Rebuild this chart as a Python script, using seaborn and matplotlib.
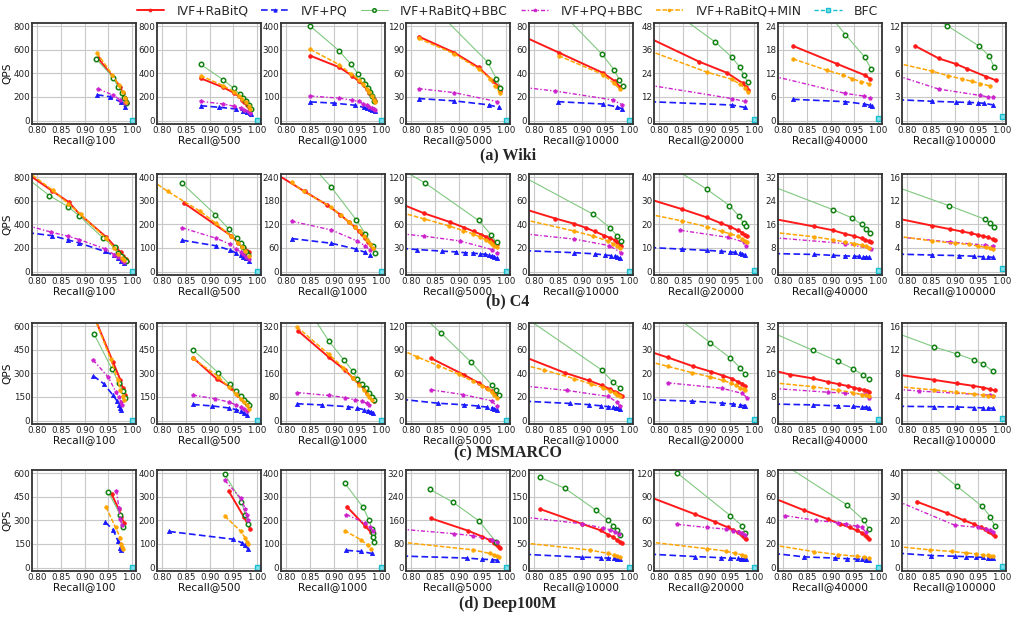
import matplotlib
matplotlib.use("Agg")
import matplotlib.pyplot as plt
from matplotlib.lines import Line2D
import seaborn as sns
import pandas as pd

# ---------------- data (recall, QPS) ----------------
KS = [100, 500, 1000, 5000, 10000, 20000, 40000, 100000]
DATASETS = ["(a) Wiki", "(b) C4", "(c) MSMARCO", "(d) Deep100M"]
YTOP_WIKI = [800, 800, 400, 120, 80, 48, 24, 12]
YTOP_C4 = [800, 400, 240, 120, 80, 40, 32, 16]
YTOP_MS = [600, 600, 320, 120, 80, 40, 32, 16]
YTOP_DEEP = [600, 400, 400, 320, 200, 120, 80, 40]
BFC_QPS = [0.6, 0.6, 0.5, 0.5]

# R: IVF+RaBitQ, P: IVF+PQ, G: IVF+RaBitQ+BBC, M: IVF+PQ+BBC, O: IVF+RaBitQ+MIN
WIKI_100 = dict(
    R=[(0.928, 530), (0.960, 370), (0.975, 285), (0.980, 230), (0.984, 190), (0.987, 160), (0.989, 150)],
    P=[(0.926, 219), (0.953, 202), (0.977, 155), (0.985, 115)],
    G=[(0.925, 520), (0.960, 365), (0.970, 285), (0.978, 235), (0.983, 190), (0.986, 160), (0.988, 150)],
    M=[(0.928, 270), (0.960, 215), (0.975, 175), (0.985, 150)],
    O=[(0.926, 575), (0.958, 390), (0.972, 300), (0.980, 240), (0.985, 190), (0.988, 160)])
WIKI_500 = dict(
    R=[(0.881, 359), (0.929, 281), (0.952, 233), (0.961, 205), (0.968, 177), (0.973, 154), (0.978, 132), (0.982, 112), (0.985, 90)],
    P=[(0.881, 126), (0.920, 112), (0.956, 98), (0.971, 84), (0.978, 76), (0.984, 65), (0.986, 56)],
    G=[(0.881, 477), (0.929, 345), (0.951, 272), (0.963, 225), (0.970, 191), (0.976, 163), (0.982, 132), (0.986, 98)],
    M=[(0.881, 163), (0.929, 140), (0.952, 121), (0.965, 107), (0.973, 93), (0.980, 79), (0.985, 65)],
    O=[(0.881, 382), (0.929, 295), (0.951, 244), (0.961, 211), (0.969, 182), (0.976, 154), (0.982, 126), (0.985, 98)])
WIKI_1000 = dict(
    R=[(0.851, 275), (0.912, 226), (0.938, 191), (0.953, 167), (0.963, 149), (0.970, 132), (0.975, 118), (0.980, 104), (0.984, 91), (0.986, 81)],
    P=[(0.851, 79), (0.900, 74), (0.944, 65), (0.963, 56), (0.970, 52), (0.976, 47), (0.981, 45), (0.986, 42)],
    G=[(0.851, 401), (0.911, 297), (0.936, 240), (0.951, 199), (0.959, 174), (0.966, 153), (0.972, 139), (0.976, 121), (0.981, 104), (0.985, 84)],
    M=[(0.851, 104), (0.912, 95), (0.939, 86), (0.953, 81), (0.962, 72), (0.970, 65), (0.975, 58), (0.980, 53), (0.984, 49), (0.988, 45)],
    O=[(0.851, 302), (0.912, 237), (0.936, 198), (0.953, 174), (0.962, 153), (0.970, 135), (0.975, 121), (0.980, 104), (0.984, 88), (0.988, 77)])
WIKI_5000 = dict(
    R=[(0.816, 107), (0.891, 86.5), (0.942, 67.7), (0.973, 50), (0.983, 44), (0.986, 38)],
    P=[(0.816, 28), (0.891, 25), (0.963, 20), (0.984, 16.7)],
    G=[(0.870, 130), (0.961, 74.5), (0.979, 53.5), (0.987, 42)],
    M=[(0.816, 40.6), (0.891, 35.5), (0.980, 24.2)],
    O=[(0.816, 104.5), (0.891, 85), (0.942, 65.6), (0.966, 53.5), (0.977, 44), (0.986, 35.5)])
WIKI_10000 = dict(
    R=[(0.780, 71), (0.852, 57.7), (0.945, 40.4), (0.970, 33.4), (0.980, 28.7)],
    P=[(0.850, 16), (0.945, 14), (0.975, 11.5), (0.985, 10)],
    G=[(0.850, 95), (0.943, 56.3), (0.969, 42.6), (0.979, 34.8), (0.986, 29)],
    M=[(0.780, 28), (0.845, 25), (0.965, 17.5), (0.985, 13.5)],
    O=[(0.852, 55), (0.945, 39), (0.968, 31.5), (0.980, 27)])
WIKI_20000 = dict(
    R=[(0.780, 42), (0.884, 30), (0.943, 24.3), (0.976, 19), (0.982, 17.2), (0.987, 15.6)],
    P=[(0.780, 9.6), (0.953, 7.9), (0.980, 6.7)],
    G=[(0.850, 52), (0.918, 40), (0.953, 32.3), (0.970, 27.1), (0.978, 23.4), (0.986, 19.7)],
    M=[(0.780, 18), (0.953, 11.2), (0.980, 9.7)],
    O=[(0.780, 35.5), (0.901, 24.6), (0.953, 21), (0.971, 18.4), (0.980, 16.5), (0.986, 14.5)])
WIKI_40000 = dict(
    R=[(0.821, 19.0), (0.914, 14.4), (0.973, 11.5), (0.982, 10.7)],
    P=[(0.821, 5.4), (0.931, 4.8), (0.970, 4.2), (0.982, 3.9), (0.987, 3.6)],
    G=[(0.890, 28), (0.931, 21.9), (0.972, 16.1), (0.985, 13.1)],
    M=[(0.780, 11.3), (0.931, 6.9), (0.971, 6.2), (0.983, 5.7)],
    O=[(0.821, 15.7), (0.892, 12.8), (0.926, 11.6), (0.946, 10.6), (0.964, 9.9), (0.980, 9.4)])
WIKI_100000 = dict(
    R=[(0.817, 9.5), (0.867, 7.9), (0.903, 7.2), (0.926, 6.6), (0.966, 5.6), (0.988, 5.1)],
    P=[(0.780, 2.65), (0.852, 2.45), (0.902, 2.35), (0.931, 2.3), (0.949, 2.25), (0.961, 2.2), (0.980, 2.0)],
    G=[(0.840, 13.6), (0.884, 12.1), (0.951, 9.5), (0.973, 8.2), (0.983, 6.8)],
    M=[(0.780, 5.7), (0.867, 4.0), (0.953, 3.2), (0.970, 3.0), (0.981, 3.0)],
    O=[(0.780, 7.3), (0.852, 6.3), (0.887, 5.7), (0.915, 5.3), (0.936, 5.0), (0.954, 4.7), (0.975, 4.4)])

C4_100 = dict(
    R=[(0.780, 830), (0.831, 687), (0.867, 588), (0.889, 489), (0.946, 291), (0.965, 206), (0.976, 164), (0.981, 130), (0.986, 107), (0.990, 93)],
    P=[(0.780, 330), (0.831, 305), (0.865, 269), (0.888, 243), (0.943, 170), (0.962, 136), (0.971, 113), (0.977, 93), (0.983, 73)],
    G=[(0.780, 790), (0.826, 645), (0.865, 551), (0.888, 475), (0.939, 283), (0.963, 206), (0.971, 158), (0.977, 130), (0.983, 107), (0.988, 93)],
    M=[(0.780, 390), (0.830, 334), (0.865, 300), (0.889, 271), (0.943, 192), (0.962, 144), (0.971, 122), (0.978, 99), (0.983, 85)],
    O=[(0.780, 850), (0.833, 690), (0.866, 575), (0.892, 485), (0.944, 285), (0.962, 200), (0.971, 150), (0.978, 115), (0.983, 95)])
C4_500 = dict(
    R=[(0.846, 291), (0.946, 151), (0.960, 123), (0.968, 109), (0.973, 98), (0.978, 88), (0.982, 81)],
    P=[(0.842, 133), (0.914, 109), (0.943, 91), (0.956, 78), (0.965, 70), (0.971, 63), (0.977, 56), (0.982, 46)],
    G=[(0.842, 375), (0.912, 242), (0.941, 179), (0.958, 144), (0.966, 119), (0.971, 102), (0.976, 84), (0.980, 70)],
    M=[(0.842, 186), (0.914, 141), (0.943, 116), (0.956, 95), (0.965, 84), (0.971, 74), (0.977, 63), (0.982, 53)],
    O=[(0.780, 385), (0.812, 340), (0.880, 256), (0.914, 204), (0.944, 151), (0.959, 123), (0.968, 105), (0.975, 88), (0.982, 67)])
C4_1000 = dict(
    R=[(0.780, 248), (0.839, 204), (0.887, 169), (0.914, 145), (0.932, 126), (0.944, 114), (0.953, 103), (0.959, 95), (0.966, 86), (0.973, 76), (0.978, 68), (0.982, 61)],
    P=[(0.812, 84), (0.895, 72), (0.948, 57), (0.966, 49), (0.976, 42)],
    G=[(0.860, 262), (0.895, 215), (0.948, 131), (0.967, 96), (0.982, 65), (0.986, 47)],
    M=[(0.812, 128), (0.895, 106), (0.949, 78), (0.967, 65), (0.976, 55)],
    O=[(0.812, 227), (0.837, 204), (0.895, 164), (0.915, 143), (0.932, 127), (0.944, 113), (0.955, 102), (0.963, 91), (0.970, 80), (0.976, 70), (0.982, 59)])
C4_5000 = dict(
    R=[(0.780, 86), (0.828, 74), (0.882, 63), (0.912, 56), (0.932, 51), (0.948, 47), (0.958, 44), (0.965, 41), (0.970, 39), (0.975, 37), (0.980, 35)],
    P=[(0.780, 29.5), (0.812, 28), (0.865, 26), (0.895, 25), (0.913, 24), (0.930, 23.5), (0.945, 22.5), (0.955, 22), (0.963, 21), (0.970, 20), (0.975, 19), (0.980, 17)],
    G=[(0.780, 130), (0.829, 113), (0.942, 65), (0.968, 47), (0.980, 37)],
    M=[(0.780, 48), (0.828, 45), (0.902, 39), (0.970, 28), (0.980, 23)],
    O=[(0.780, 75), (0.828, 67), (0.880, 58), (0.910, 52), (0.930, 48), (0.945, 44), (0.958, 40), (0.965, 37), (0.970, 35), (0.975, 33), (0.980, 31)])
C4_10000 = dict(
    R=[(0.780, 53), (0.845, 45), (0.885, 40.5), (0.910, 37), (0.928, 34), (0.948, 30.5), (0.960, 28.5), (0.970, 26.5), (0.975, 25), (0.980, 23.5), (0.983, 22)],
    P=[(0.780, 17.7), (0.885, 16), (0.928, 15), (0.950, 14), (0.962, 13.5), (0.970, 13), (0.975, 12.5), (0.980, 11.5)],
    G=[(0.780, 80), (0.925, 48.5), (0.960, 37), (0.975, 30), (0.983, 26)],
    M=[(0.780, 32), (0.885, 27.5), (0.958, 22), (0.983, 16)],
    O=[(0.780, 44), (0.883, 34.5), (0.925, 30), (0.955, 26), (0.967, 23.5), (0.975, 21.5), (0.980, 20)])
C4_20000 = dict(
    R=[(0.780, 30.7), (0.848, 26.5), (0.900, 23), (0.930, 20.5), (0.950, 19), (0.965, 17.5), (0.975, 16.5), (0.980, 15.5), (0.985, 15)],
    P=[(0.780, 10.2), (0.848, 9.5), (0.900, 9), (0.930, 8.6), (0.950, 8.3), (0.960, 8.1), (0.970, 7.8), (0.975, 7.5), (0.980, 7.2)],
    G=[(0.830, 44), (0.900, 35), (0.948, 28), (0.968, 23.5), (0.978, 20.5), (0.983, 19.5)],
    M=[(0.845, 17.5), (0.945, 14.5), (0.978, 12.5), (0.983, 11)],
    O=[(0.780, 24.3), (0.848, 21.5), (0.900, 19), (0.932, 17), (0.950, 16), (0.965, 15), (0.975, 14), (0.980, 13), (0.985, 12.5)])
C4_40000 = dict(
    R=[(0.780, 17.9), (0.865, 15.3), (0.905, 14), (0.930, 12.8), (0.950, 12), (0.965, 11.3), (0.973, 10.8), (0.980, 10.3), (0.985, 10)],
    P=[(0.780, 6.1), (0.865, 5.8), (0.905, 5.5), (0.930, 5.3), (0.950, 5.2), (0.960, 5.1), (0.968, 5.0), (0.975, 4.9), (0.980, 4.8)],
    G=[(0.780, 28.8), (0.905, 21), (0.945, 18.2), (0.965, 16), (0.975, 14.5), (0.983, 13)],
    M=[(0.780, 11.5), (0.930, 9.5), (0.985, 7.7)],
    O=[(0.780, 13.3), (0.865, 11.8), (0.905, 10.8), (0.930, 10), (0.950, 9.5), (0.965, 9), (0.975, 8.5), (0.980, 8)])
C4_100000 = dict(
    R=[(0.780, 9.0), (0.852, 7.8), (0.890, 7.2), (0.915, 6.8), (0.935, 6.5), (0.950, 6.2), (0.960, 6.0), (0.970, 5.8), (0.980, 5.5), (0.985, 5.3)],
    P=[(0.780, 2.95), (0.852, 2.8), (0.910, 2.7), (0.940, 2.6), (0.960, 2.5), (0.970, 2.5), (0.980, 2.4)],
    G=[(0.780, 14.3), (0.888, 11.2), (0.963, 8.9), (0.975, 8.2), (0.983, 7.6)],
    M=[(0.780, 5.9), (0.890, 5.0), (0.963, 4.5), (0.980, 4.3)],
    O=[(0.780, 6.0), (0.852, 5.2), (0.900, 4.8), (0.930, 4.6), (0.950, 4.3), (0.965, 4.1), (0.975, 4.0), (0.980, 3.8)])

MS_100 = dict(
    R=[(0.915, 700), (0.960, 370), (0.975, 260), (0.980, 205), (0.985, 165)],
    P=[(0.918, 285), (0.940, 235), (0.960, 160), (0.968, 125), (0.972, 100), (0.975, 80), (0.977, 70)],
    G=[(0.920, 550), (0.958, 325), (0.972, 240), (0.980, 190), (0.985, 145)],
    M=[(0.918, 385), (0.950, 275), (0.966, 180), (0.972, 150), (0.976, 120), (0.978, 100)],
    O=[(0.920, 660), (0.955, 390), (0.970, 255), (0.975, 195), (0.980, 155), (0.983, 130)])
MS_500 = dict(
    R=[(0.865, 400), (0.915, 265), (0.945, 210), (0.960, 165), (0.968, 140), (0.974, 125), (0.978, 110), (0.982, 95)],
    P=[(0.865, 102), (0.905, 93), (0.940, 80), (0.955, 70), (0.965, 60), (0.972, 50), (0.978, 35)],
    G=[(0.865, 450), (0.918, 305), (0.942, 230), (0.955, 190), (0.965, 155), (0.972, 130), (0.978, 110), (0.982, 100)],
    M=[(0.865, 162), (0.912, 138), (0.940, 118), (0.955, 100), (0.965, 85), (0.972, 75), (0.978, 60)],
    O=[(0.865, 395), (0.918, 280), (0.940, 215), (0.955, 170), (0.965, 140), (0.972, 120), (0.978, 100), (0.982, 75)])
MS_1000 = dict(
    R=[(0.825, 305), (0.890, 215), (0.925, 170), (0.940, 145), (0.953, 125), (0.963, 110), (0.970, 95), (0.975, 85), (0.980, 75), (0.985, 65)],
    P=[(0.823, 57), (0.875, 53), (0.930, 47), (0.950, 42), (0.963, 37), (0.972, 33), (0.978, 30), (0.982, 27)],
    G=[(0.860, 345), (0.890, 270), (0.922, 205), (0.940, 168), (0.950, 140), (0.960, 125), (0.968, 110), (0.975, 95), (0.980, 80), (0.985, 70)],
    M=[(0.823, 95), (0.890, 85), (0.925, 78), (0.945, 70), (0.960, 65), (0.970, 58), (0.975, 52)],
    O=[(0.823, 318), (0.890, 225), (0.920, 180), (0.940, 145), (0.953, 120), (0.963, 105), (0.970, 90), (0.975, 80), (0.980, 70)])
MS_5000 = dict(
    R=[(0.843, 79), (0.912, 58), (0.942, 48), (0.960, 41), (0.970, 37), (0.978, 34), (0.982, 31)],
    P=[(0.780, 27), (0.857, 22), (0.912, 20), (0.940, 18.5), (0.960, 17), (0.970, 16), (0.975, 15), (0.980, 14)],
    G=[(0.830, 130), (0.862, 112), (0.927, 74), (0.970, 45), (0.978, 39), (0.985, 32)],
    M=[(0.843, 39), (0.910, 33), (0.970, 25), (0.980, 18)],
    O=[(0.780, 90), (0.813, 81), (0.857, 70), (0.900, 59), (0.930, 50), (0.950, 44), (0.962, 40), (0.970, 36), (0.975, 33), (0.980, 29)])
MS_10000 = dict(
    R=[(0.780, 54), (0.865, 40.5), (0.915, 34), (0.942, 30), (0.960, 26.5), (0.970, 24.5), (0.975, 23), (0.980, 22), (0.985, 21)],
    P=[(0.780, 16.4), (0.875, 14.5), (0.915, 13.5), (0.940, 12.5), (0.955, 11.8), (0.965, 11.3), (0.972, 10.8), (0.977, 10.3), (0.980, 9.8)],
    G=[(0.780, 88), (0.942, 43), (0.965, 33), (0.980, 27.5)],
    M=[(0.780, 29.3), (0.870, 25.5), (0.955, 20.5), (0.975, 15.5), (0.980, 12.5)],
    O=[(0.780, 47), (0.820, 43), (0.885, 35.5), (0.920, 31), (0.945, 28), (0.960, 25), (0.970, 23), (0.975, 21.5), (0.980, 20.5)])
MS_20000 = dict(
    R=[(0.780, 29.3), (0.818, 26.8), (0.872, 23), (0.910, 20.7), (0.935, 19), (0.953, 17.8), (0.965, 16.5), (0.975, 15.6), (0.980, 14.7)],
    P=[(0.780, 8.85), (0.870, 8.2), (0.932, 7.4), (0.955, 7.0), (0.970, 6.6), (0.978, 6.3), (0.980, 6.1)],
    G=[(0.830, 45), (0.908, 33), (0.950, 26.5), (0.970, 22.5), (0.980, 19.7)],
    M=[(0.818, 16), (0.932, 13.7), (0.975, 11.5), (0.985, 9.7)],
    O=[(0.780, 25), (0.818, 23), (0.870, 20.3), (0.908, 18.5), (0.935, 17), (0.952, 15.8), (0.962, 15), (0.970, 14), (0.978, 13.3), (0.980, 12.8)])
MS_40000 = dict(
    R=[(0.780, 17), (0.815, 15.6), (0.863, 14.3), (0.895, 13.1), (0.918, 12.3), (0.937, 11.7), (0.950, 11.1), (0.960, 10.7), (0.970, 10.4), (0.976, 10.1), (0.980, 9.8)],
    P=[(0.780, 5.6), (0.863, 5.3), (0.915, 5.0), (0.948, 4.8), (0.965, 4.6), (0.975, 4.5), (0.980, 4.4)],
    G=[(0.780, 29.7), (0.862, 23.9), (0.915, 20.1), (0.948, 17.5), (0.968, 15.5), (0.980, 14)],
    M=[(0.780, 10.9), (0.895, 9.6), (0.930, 9.3), (0.975, 8.9), (0.980, 7.7)],
    O=[(0.780, 12.8), (0.863, 11.5), (0.915, 10.3), (0.948, 9.5), (0.965, 8.8), (0.975, 8.5), (0.980, 8.2)])
MS_100000 = dict(
    R=[(0.780, 7.8), (0.857, 6.9), (0.905, 6.3), (0.938, 5.9), (0.960, 5.6), (0.975, 5.3), (0.985, 5.1)],
    P=[(0.780, 2.42), (0.857, 2.35), (0.905, 2.3), (0.940, 2.2), (0.960, 2.15), (0.970, 2.1), (0.980, 2.1)],
    G=[(0.780, 14.8), (0.857, 12.5), (0.905, 11.3), (0.940, 10.3), (0.960, 9.6), (0.980, 8.4)],
    M=[(0.780, 5.3), (0.825, 5.0), (0.975, 4.3), (0.980, 4.2)],
    O=[(0.780, 5.75), (0.857, 5.2), (0.903, 4.8), (0.940, 4.5), (0.960, 4.3), (0.970, 4.2), (0.980, 4.1)])

DEEP_100 = dict(
    R=[(0.957, 465), (0.972, 370), (0.977, 320), (0.983, 285)],
    P=[(0.943, 290), (0.960, 240), (0.970, 170), (0.975, 125), (0.977, 110)],
    G=[(0.950, 480), (0.975, 335), (0.980, 260)],
    M=[(0.967, 490), (0.972, 380), (0.975, 310), (0.978, 270)],
    O=[(0.945, 385), (0.965, 255), (0.975, 190), (0.977, 150), (0.978, 130), (0.980, 115)])
DEEP_500 = dict(
    R=[(0.940, 325), (0.972, 215), (0.985, 165)],
    P=[(0.815, 153), (0.950, 120), (0.968, 105), (0.975, 95), (0.980, 80)],
    G=[(0.932, 395), (0.967, 280), (0.975, 225), (0.980, 185)],
    M=[(0.932, 370), (0.965, 295), (0.975, 250), (0.978, 225), (0.980, 200)],
    O=[(0.932, 218), (0.965, 155), (0.975, 125), (0.978, 110), (0.980, 100)])
DEEP_1000 = dict(
    R=[(0.928, 258), (0.967, 175), (0.978, 150), (0.983, 135)],
    P=[(0.927, 73), (0.958, 68), (0.980, 60)],
    G=[(0.923, 360), (0.962, 255), (0.975, 200), (0.980, 165), (0.982, 145), (0.983, 130), (0.984, 110)],
    M=[(0.927, 225), (0.965, 190), (0.977, 170), (0.983, 155)],
    O=[(0.923, 157), (0.958, 117), (0.972, 95), (0.978, 80)])
DEEP_5000 = dict(
    R=[(0.842, 167), (0.920, 125), (0.950, 105), (0.965, 93), (0.975, 83), (0.980, 77), (0.985, 70), (0.988, 65)],
    P=[(0.780, 39), (0.918, 32), (0.950, 28), (0.970, 27), (0.980, 25)],
    G=[(0.840, 265), (0.888, 222), (0.943, 158), (0.978, 88)],
    M=[(0.780, 130), (0.890, 115), (0.930, 108), (0.970, 95), (0.980, 85)],
    O=[(0.780, 86), (0.930, 60), (0.965, 48), (0.975, 42), (0.980, 38), (0.985, 35)])
DEEP_10000 = dict(
    R=[(0.813, 124), (0.900, 93), (0.940, 79), (0.955, 70), (0.967, 64), (0.975, 58), (0.980, 55), (0.985, 52)],
    P=[(0.780, 28), (0.900, 22), (0.940, 21), (0.955, 20), (0.968, 19.5), (0.975, 19), (0.980, 18.5)],
    G=[(0.812, 192), (0.865, 168), (0.930, 122), (0.955, 101), (0.967, 89), (0.975, 79), (0.980, 68)],
    M=[(0.780, 107), (0.900, 93), (0.945, 84), (0.960, 80), (0.970, 76), (0.978, 72)],
    O=[(0.780, 52), (0.918, 37), (0.955, 30), (0.968, 27), (0.975, 25), (0.980, 23)])
DEEP_20000 = dict(
    R=[(0.780, 90), (0.875, 68), (0.918, 58), (0.945, 51), (0.955, 48), (0.965, 45), (0.972, 43), (0.977, 40), (0.980, 38), (0.983, 36)],
    P=[(0.780, 17), (0.875, 14), (0.930, 12.5), (0.950, 12), (0.965, 11.5), (0.972, 11), (0.978, 10.8), (0.982, 10.5)],
    G=[(0.837, 121), (0.950, 66), (0.975, 53), (0.980, 44)],
    M=[(0.838, 55), (0.900, 51), (0.940, 49), (0.955, 47), (0.968, 45), (0.975, 44), (0.980, 42)],
    O=[(0.780, 32.5), (0.900, 24), (0.940, 21), (0.960, 18), (0.975, 16), (0.980, 15)])
DEEP_40000 = dict(
    R=[(0.780, 59), (0.845, 48.5), (0.895, 41), (0.920, 37), (0.940, 34), (0.955, 31.5), (0.965, 29.5), (0.972, 27.5), (0.977, 26), (0.980, 24.5)],
    P=[(0.780, 12), (0.845, 9), (0.910, 8), (0.935, 7.5), (0.955, 7.2), (0.965, 7), (0.975, 6.8), (0.980, 6.5)],
    G=[(0.800, 88), (0.935, 53), (0.970, 40), (0.980, 33)],
    M=[(0.805, 44), (0.870, 40), (0.915, 38), (0.932, 37), (0.955, 35), (0.965, 34), (0.975, 30)],
    O=[(0.780, 19), (0.865, 13.5), (0.915, 11), (0.955, 9.5), (0.970, 9), (0.980, 8.5)])
DEEP_100000 = dict(
    R=[(0.820, 28), (0.885, 23), (0.920, 20), (0.940, 18.5), (0.955, 17), (0.963, 16.3), (0.970, 15.5), (0.975, 15), (0.980, 14.2), (0.985, 13.5)],
    P=[(0.780, 6.1), (0.850, 5.1), (0.900, 4.8), (0.925, 4.6), (0.945, 4.4), (0.960, 4.3), (0.970, 4.2), (0.975, 4.1), (0.980, 4.0)],
    G=[(0.840, 45), (0.905, 34.5), (0.958, 26), (0.975, 21.5), (0.985, 17.5)],
    M=[(0.780, 28.2), (0.900, 18), (0.950, 17), (0.965, 16.5), (0.975, 16), (0.980, 15)],
    O=[(0.780, 8.9), (0.848, 7.5), (0.895, 6.8), (0.925, 6.2), (0.945, 5.8), (0.960, 5.4), (0.970, 5.2), (0.975, 5.0), (0.980, 4.8)])

PANELS = [
    [WIKI_100, WIKI_500, WIKI_1000, WIKI_5000, WIKI_10000, WIKI_20000, WIKI_40000, WIKI_100000],
    [C4_100, C4_500, C4_1000, C4_5000, C4_10000, C4_20000, C4_40000, C4_100000],
    [MS_100, MS_500, MS_1000, MS_5000, MS_10000, MS_20000, MS_40000, MS_100000],
    [DEEP_100, DEEP_500, DEEP_1000, DEEP_5000, DEEP_10000, DEEP_20000, DEEP_40000, DEEP_100000],
]
YTOPS = [YTOP_WIKI, YTOP_C4, YTOP_MS, YTOP_DEEP]

# ---------------- styles ----------------
ORDER = ["R", "P", "G", "M", "O"]
LABELS = {"R": "IVF+RaBitQ", "P": "IVF+PQ", "G": "IVF+RaBitQ+BBC", "M": "IVF+PQ+BBC",
          "O": "IVF+RaBitQ+MIN", "B": "BFC"}
STYLE = {
    "R": dict(color="#ff1a1a", linestyle="-", linewidth=1.4, marker="o", markersize=2.6,
              markerfacecolor="#ff1a1a", markeredgecolor="#ff1a1a", markeredgewidth=0.6),
    "P": dict(color="#1a1aff", linestyle=(0, (4, 2)), linewidth=1.2, marker="^", markersize=3.0,
              markerfacecolor="#1a1aff", markeredgecolor="#1a1aff", markeredgewidth=0.6),
    "G": dict(color="#80c880", linestyle="-", linewidth=0.8, marker="o", markersize=3.2,
              markerfacecolor="white", markeredgecolor="#108010", markeredgewidth=1.1),
    "M": dict(color="#cc22cc", linestyle=(0, (3, 1.5, 1, 1.5)), linewidth=1.0, marker="p", markersize=2.8,
              markerfacecolor="#cc22cc", markeredgecolor="#cc22cc", markeredgewidth=0.6),
    "O": dict(color="#ffa500", linestyle=(0, (3, 1.2)), linewidth=1.1, marker="o", markersize=2.5,
              markerfacecolor="#ffa500", markeredgecolor="#ffa500", markeredgewidth=0.6),
    "B": dict(color="#17becf", linestyle=(0, (3, 1.5)), linewidth=1.0, marker="s", markersize=3.6,
              markerfacecolor="#7fdfe8", markeredgecolor="#17becf", markeredgewidth=1.0),
}

sns.set_theme(style="whitegrid")
plt.rcParams["font.family"] = ["DejaVu Sans"]

W, H = 1017, 617
fig = plt.figure(figsize=(W / 100, H / 100), dpi=100)

COL_LEFT = [32, 157, 281, 406, 529, 654, 778, 902]
ROW_TOP = [23, 174, 323, 470]
AX_W, AX_H = 104, 101
CAP_Y = [155, 301, 453, 604]

for r in range(4):
    for c in range(8):
        ax = fig.add_axes([COL_LEFT[c] / W, 1 - (ROW_TOP[r] + AX_H) / H, AX_W / W, AX_H / H])
        panel = PANELS[r][c]
        for key in ORDER:
            df = pd.DataFrame(panel[key], columns=["recall", "qps"])
            sns.lineplot(data=df, x="recall", y="qps", ax=ax, sort=False, estimator=None,
                         legend=False, **STYLE[key])
        bdf = pd.DataFrame({"recall": [1.0], "qps": [BFC_QPS[r]]})
        sns.lineplot(data=bdf, x="recall", y="qps", ax=ax, estimator=None, legend=False, **STYLE["B"])
        top = YTOPS[r][c]
        ax.set_xlim(0.7895, 1.008)
        ax.set_ylim(-0.037 * top, 1.035 * top)
        ax.set_xticks([0.80, 0.85, 0.90, 0.95, 1.00])
        ax.set_xticklabels(["0.80", "0.85", "0.90", "0.95", "1.00"])
        yt = [top * i / 4 for i in range(5)]
        ax.set_yticks(yt)
        ax.set_yticklabels([f"{v:g}" for v in yt])
        ax.tick_params(axis="both", labelsize=6.3, length=0, pad=1.2, colors="#222222")
        ax.grid(True, color="#c8c8c8", linewidth=0.8)
        ax.set_facecolor("white")
        for s in ax.spines.values():
            s.set_visible(True)
            s.set_color("#333333")
            s.set_linewidth(1.3)
        ax.set_xlabel(f"Recall@{KS[c]}", fontsize=7.6, labelpad=0.5, color="#111111")
        if c == 0:
            ax.set_ylabel("QPS", fontsize=7.6, labelpad=1, color="#111111")
        else:
            ax.set_ylabel("")
    fig.text(0.4995, 1 - CAP_Y[r] / H, DATASETS[r], ha="center", va="center",
             fontsize=11.5, fontweight="bold", family=["Liberation Serif", "DejaVu Serif"])

handles = []
for key in ORDER + ["B"]:
    st = dict(STYLE[key])
    st["markersize"] = st["markersize"] * 0.8
    handles.append(Line2D([0], [0], label=LABELS[key], **st))
fig.legend(handles=handles, loc="center", bbox_to_anchor=(0.499, 0.982), ncol=6,
           frameon=False, fontsize=8.9, handlelength=2.2, handletextpad=1.0,
           columnspacing=1.05, borderaxespad=0)

fig.savefig("out.png", dpi=100)
